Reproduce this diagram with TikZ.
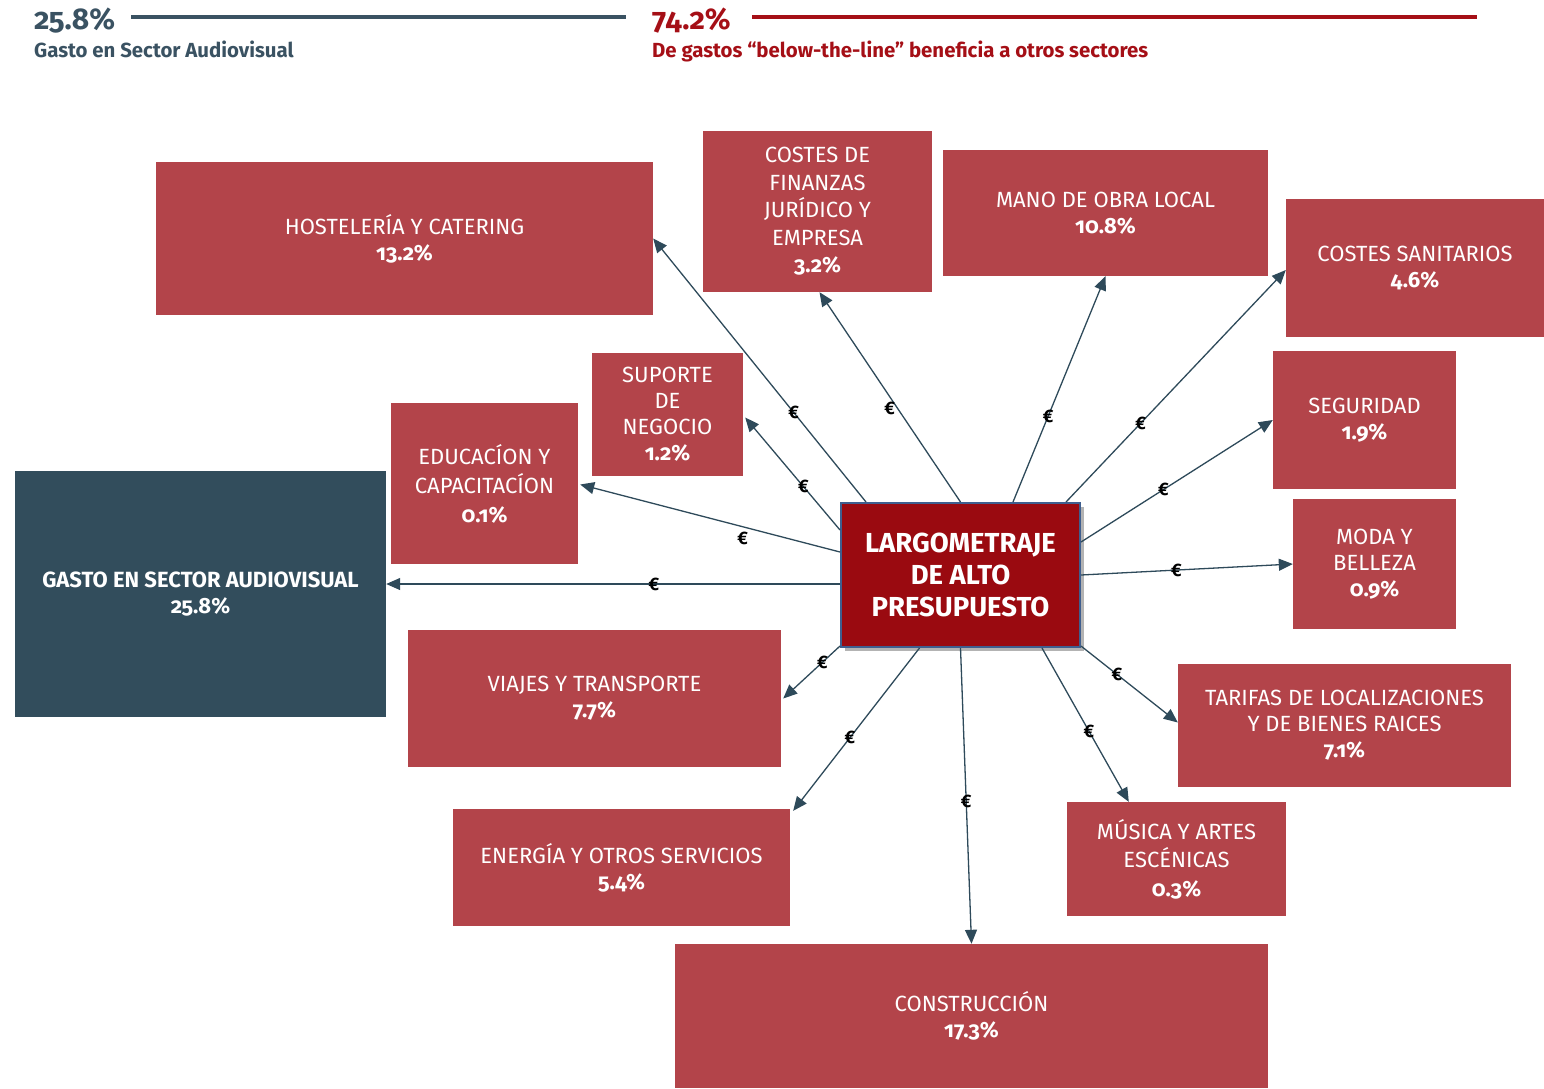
\documentclass[tikz,border=0pt]{standalone}
\usepackage{fontspec}
\setmainfont{Fira Sans}[Numbers=OldStyle]
\usetikzlibrary{shadows,arrows.meta}
\definecolor{boxred}{HTML}{B3444A}
\definecolor{slate}{HTML}{324D5C}
\definecolor{centerred}{HTML}{9A0A10}
\definecolor{centerborder}{HTML}{3F5F8F}
\definecolor{arrowc}{HTML}{2E4A5A}
\definecolor{headred}{HTML}{A50F16}
\definecolor{headblue}{HTML}{3A5262}
\begin{document}
\begin{tikzpicture}[x=1pt,y=-1pt,
  box/.style={fill=boxred, text=white, align=center, inner sep=0pt, font=\fontsize{22}{26}\selectfont},
  arr/.style={draw=arrowc, line width=1.3pt, -{Triangle[length=14pt,width=12pt]}},
  eur/.style={font=\bfseries\fontsize{18}{18}\selectfont, text=black, inner sep=0pt}]
\useasboundingbox (0,0) rectangle (1544,1088);
% header
\node[anchor=base west, text=headblue, font=\bfseries\fontsize{30}{30}\selectfont, inner sep=0pt] (h1) at (34,29) {25.8\%};
\node[anchor=base west, text=headblue, font=\bfseries\fontsize{20.4}{20}\selectfont, inner sep=0pt] (h1b) at (34,57) {Gasto en Sector Audiovisual};
\draw[headblue, line width=4pt] (131,17) -- (626,17);
\node[anchor=base west, text=headred, font=\bfseries\fontsize{30}{30}\selectfont, inner sep=0pt] (h2) at (652,29) {74.2\%};
\node[anchor=base west, text=headred, font=\bfseries\fontsize{20.4}{20}\selectfont, inner sep=0pt] (h2b) at (652,57) {De gastos “below-the-line” beneficia a otros sectores};
\draw[headred, line width=4pt] (752,17) -- (1477,17);
% boxes
\node[box, minimum width=497pt, minimum height=153pt] (host) at (404.5,238.5) {HOSTELERÍA Y CATERING\\\textbf{13.2\%}};
\node[box, minimum width=229pt, minimum height=161pt, font=\fontsize{22}{27.5}\selectfont] (fin) at (817.5,211.5) {COSTES DE\\FINANZAS\\JURÍDICO Y\\EMPRESA\\\textbf{3.2\%}};
\node[box, minimum width=325pt, minimum height=126pt] (mano) at (1105.5,213) {MANO DE OBRA LOCAL\\\textbf{10.8\%}};
\node[box, minimum width=258pt, minimum height=138pt] (sanit) at (1415,268) {COSTES SANITARIOS\\\textbf{4.6\%}};
\node[box, minimum width=151pt, minimum height=123pt, font=\fontsize{22}{26}\selectfont] (sup) at (667.5,414.5) {SUPORTE\\DE\\NEGOCIO\\\textbf{1.2\%}};
\node[box, minimum width=187pt, minimum height=161pt, font=\fontsize{22}{29}\selectfont] (educ) at (484.5,483.5) {EDUCACÍON Y\\CAPACITACÍON\\\textbf{0.1\%}};
\node[box, fill=slate, minimum width=371pt, minimum height=246pt, font=\bfseries\fontsize{22}{26}\selectfont] (gasto) at (200.5,594) {GASTO EN SECTOR AUDIOVISUAL\\25.8\%};
\node[box, minimum width=183pt, minimum height=138pt] (seg) at (1364.5,420) {SEGURIDAD\\\textbf{1.9\%}};
\node[box, minimum width=163pt, minimum height=130pt, font=\fontsize{22}{26}\selectfont] (moda) at (1374.5,564) {MODA Y\\BELLEZA\\\textbf{0.9\%}};
\node[box, minimum width=373pt, minimum height=137pt] (viaj) at (594.5,698.5) {VIAJES Y TRANSPORTE\\\textbf{7.7\%}};
\node[box, minimum width=333pt, minimum height=123pt, font=\fontsize{22}{26}\selectfont] (tar) at (1344.5,725.5) {TARIFAS DE LOCALIZACIONES\\Y DE BIENES RAICES\\\textbf{7.1\%}};
\node[box, minimum width=337pt, minimum height=117pt] (ener) at (621.5,867.5) {ENERGÍA Y OTROS SERVICIOS\\\textbf{5.4\%}};
\node[box, minimum width=219pt, minimum height=114pt, font=\fontsize{22}{28.5}\selectfont] (mus) at (1176.5,859) {MÚSICA Y ARTES\\ESCÉNICAS\\\textbf{0.3\%}};
\node[box, minimum width=593pt, minimum height=144pt] (cons) at (971.5,1016) {CONSTRUCCIÓN\\\textbf{17.3\%}};
% center
\node[box, fill=centerred, draw=centerborder, line width=2pt, minimum width=239pt, minimum height=144pt,
  drop shadow={shadow xshift=4pt, shadow yshift=-4pt, fill=black!50, opacity=0.6},
  font=\bfseries\fontsize{27.5}{32}\selectfont] (c) at (960.5,575) {LARGOMETRAJE\\DE ALTO\\PRESUPUESTO};
% connectors
\draw[arr] ([xshift=26pt]c.north west) -- node[eur,pos=0.34]{€} (host.east);
\draw[arr] (c.north) -- node[eur,pos=0.445,xshift=-8pt]{€} ([xshift=2pt]fin.south);
\draw[arr] ([xshift=-68pt]c.north east) -- node[eur,pos=0.38]{€} (mano.south);
\draw[arr] ([xshift=-15pt]c.north east) -- node[eur,pos=0.34]{€} ([yshift=-2pt]sanit.west);
\draw[arr] ([yshift=-40pt]c.north east) -- node[eur,pos=0.43]{€} (seg.west);
\draw[arr] (c.east) -- node[eur,pos=0.45]{€} (moda.west);
\draw[arr] ([yshift=2pt]c.south east) -- node[eur,pos=0.37]{€} ([yshift=3pt]tar.west);
\draw[arr] ([xshift=-39pt]c.south east) -- node[eur,pos=0.54]{€} ([xshift=62pt]mus.north west);
\draw[arr] (c.south) -- node[eur,pos=0.52]{€} (cons.north);
\draw[arr] ([xshift=-41pt]c.south) -- node[eur,pos=0.55]{€} ([xshift=3pt,yshift=-2pt]ener.north east);
\draw[arr] ([yshift=2pt]c.south west) -- node[eur,pos=0.31]{€} ([xshift=2pt]viaj.east);
\draw[arr] ([yshift=-9pt]c.west) -- node[eur,pos=0.41]{€} ([yshift=-9pt]c.west -| gasto.east);
\draw[arr] ([yshift=23pt]c.west) -- node[eur,pos=0.375,yshift=-12pt]{€} ([xshift=2pt,yshift=-1pt]educ.east);
\draw[arr] ([yshift=45pt]c.west) -- node[eur,pos=0.385]{€} ([xshift=2pt,yshift=-3pt]sup.east);
\end{tikzpicture}
\end{document}
